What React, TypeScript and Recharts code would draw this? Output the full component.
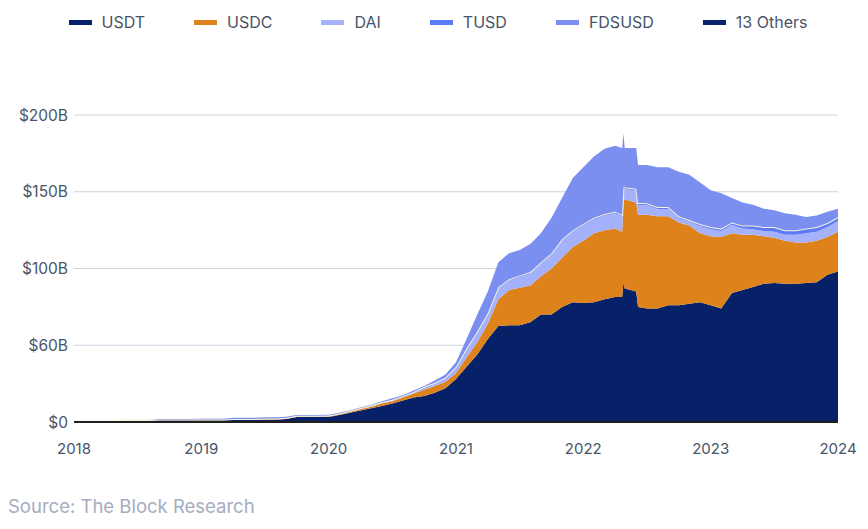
import React from 'react';
import { AreaChart, Area, XAxis, YAxis, CartesianGrid } from 'recharts';

// decimal-year timestamps (monthly, plus a few extra points around the May 2022 jump)
const times = [
  2018.0, 2018.083, 2018.167, 2018.25, 2018.333, 2018.417, 2018.5, 2018.583, 2018.667, 2018.75, 2018.833, 2018.917,
  2019.0, 2019.083, 2019.167, 2019.25, 2019.333, 2019.417, 2019.5, 2019.583, 2019.667, 2019.75, 2019.833, 2019.917,
  2020.0, 2020.083, 2020.167, 2020.25, 2020.333, 2020.417, 2020.5, 2020.583, 2020.667, 2020.75, 2020.833, 2020.917,
  2021.0, 2021.083, 2021.167, 2021.25, 2021.333, 2021.417, 2021.5, 2021.583, 2021.667, 2021.75, 2021.833, 2021.917,
  2022.0, 2022.083, 2022.167, 2022.25, 2022.305, 2022.315, 2022.325, 2022.415, 2022.43,
  2022.5, 2022.583, 2022.667, 2022.75, 2022.833, 2022.917,
  2023.0, 2023.083, 2023.167, 2023.25, 2023.333, 2023.417, 2023.5, 2023.583, 2023.667, 2023.75, 2023.833, 2023.917,
  2024.0,
];

// $B
const usdt = [
  0.3, 0.3, 0.3, 0.3, 0.3, 1.0, 1.0, 1.0, 1.2, 1.2, 1.2, 1.2,
  1.2, 1.2, 1.2, 1.3, 1.3, 1.3, 1.5, 1.5, 2.0, 3.2, 3.2, 3.2,
  3.3, 4.5, 6.0, 7.5, 9.0, 10.5, 12, 14, 16, 17, 19, 22,
  28, 36, 44, 54, 62.5, 63, 63, 65, 70, 70, 75, 78,
  77.5, 78, 80, 81.5, 81.5, 91, 87, 85, 75,
  74, 74, 76, 76, 77, 78,
  76, 74, 84, 86, 88, 90, 90.5, 90, 90, 90.5, 91, 96,
  98,
];
const usdc = [
  0, 0, 0, 0, 0, 0, 0, 0, 0.2, 0.2, 0.2, 0.2,
  0.2, 0.2, 0.2, 0.3, 0.3, 0.3, 0.4, 0.4, 0.4, 0.4, 0.4, 0.4,
  0.5, 0.6, 0.7, 1.0, 1.0, 1.5, 1.5, 2, 2.5, 4, 4.5, 4,
  4, 6, 8, 10, 17.5, 23, 24.5, 24, 25, 30, 32, 36,
  40.5, 45, 45, 44.5, 42.5, 54, 58, 58, 60,
  61, 60, 58, 54, 51, 45,
  45, 46.5, 39, 36, 34, 31, 29.5, 28, 27, 26.5, 27, 24.5,
  26,
];
const dai = [
  0, 0, 0, 0, 0, 0.1, 0.1, 0.1, 0.2, 0.2, 0.2, 0.2,
  0.2, 0.2, 0.2, 0.3, 0.3, 0.3, 0.3, 0.3, 0.3, 0.3, 0.3, 0.3,
  0.3, 0.3, 0.3, 0.4, 0.4, 0.7, 0.7, 0.7, 0.7, 1.6, 1.6, 2.5,
  3.5, 5.4, 6.3, 6.2, 7.1, 6, 7, 7.7, 8, 9, 10.9, 9.9,
  9.8, 8.8, 9.3, 9.8, 9.8, 6.8, 6.8, 7.8, 6.4,
  6.3, 4.8, 4.8, 2.8, 2.4, 4.7,
  4.5, 4, 5.5, 4, 3.5, 3.5, 4, 4, 5, 6, 6, 6.6,
  7,
];
const tusd = [
  0, 0, 0, 0, 0, 0, 0, 0, 0, 0, 0, 0,
  0.1, 0.1, 0.1, 0.1, 0.1, 0.1, 0.1, 0.1, 0.1, 0.1, 0.1, 0.1,
  0.2, 0.2, 0.2, 0.2, 0.3, 0.3, 0.3, 0.3, 0.3, 0.4, 0.4, 0.5,
  0.5, 0.6, 0.7, 0.8, 0.9, 1, 1, 1, 1, 1, 1.1, 1.1,
  1.2, 1.2, 1.2, 1.2, 1.2, 1.2, 1.2, 1.2, 1.2,
  1.2, 1.2, 1.2, 1.2, 1.2, 1.3,
  1.5, 1.5, 1.5, 2, 2.5, 2.5, 3, 3, 3, 3, 3, 2.5,
  2.5,
];
const fdsusd = [
  0, 0, 0, 0, 0, 0.1, 0.1, 0.1, 0.4, 0.4, 0.4, 0.4,
  0.4, 0.4, 0.4, 0.7, 0.7, 0.7, 0.8, 0.8, 0.7, 0.5, 0.5, 0.5,
  0.5, 0.4, 0.3, 0.4, 0.3, 0.5, 1.0, 0.5, 1, 0.5, 1.5, 2,
  3, 6, 11, 14, 16, 17, 16.5, 18.3, 19, 23, 27, 34,
  37, 40, 42.5, 43, 43.5, 35, 25.5, 26.5, 24.9,
  25, 26, 26, 29, 29.4, 27,
  24, 23, 16, 15, 13.5, 12, 11, 11, 10, 7.5, 7.5, 7.4,
  5.5,
];
const others = times.map(() => 0);

const xTicks = [2018, 2019, 2020, 2021, 2022, 2023, 2024];
const yTicks = [0, 50, 100, 150, 200];
const yTickLabels = ['$0', '$60B', '$100B', '$150B', '$200B'];

const series = [
  { key: 'usdt', name: 'USDT', color: '#062167' },
  { key: 'usdc', name: 'USDC', color: '#de821c' },
  { key: 'dai', name: 'DAI', color: '#a4b2fb' },
  { key: 'tusd', name: 'TUSD', color: '#5c7bf5' },
  { key: 'fdsusd', name: 'FDSUSD', color: '#7b8ff0' },
  { key: 'others', name: '13 Others', color: '#0a2470' },
];

const data = times.map((t, i) => ({
  t,
  usdt: usdt[i],
  usdc: usdc[i],
  dai: dai[i],
  tusd: tusd[i],
  fdsusd: fdsusd[i],
  others: others[i],
}));

const FONT = 'Inter, "Noto Sans", sans-serif';

export default function App() {
  return (
    <div style={{ position: 'absolute', left: 0, top: 0, width: 868, height: 529, background: '#fff', fontFamily: FONT }}>
      <div
        style={{
          position: 'absolute',
          top: 12,
          left: 4,
          width: 868,
          display: 'flex',
          justifyContent: 'center',
          gap: 49,
          fontSize: 16,
          color: '#475467',
        }}
      >
        {series.map((s) => (
          <div key={s.key} style={{ display: 'flex', alignItems: 'center', gap: 10 }}>
            <span style={{ display: 'inline-block', width: 23, height: 5, background: s.color }} />
            <span>{s.name}</span>
          </div>
        ))}
      </div>

      <AreaChart
        width={868}
        height={529}
        data={data}
        margin={{ top: 115, right: 30, left: 0, bottom: 77 }}
        style={{ position: 'absolute', left: 0, top: 0 }}
      >
        <CartesianGrid vertical={false} stroke="#cbd5e1" strokeWidth={1.2} />
        <XAxis
          dataKey="t"
          type="number"
          domain={[2018, 2024]}
          ticks={xTicks}
          tickFormatter={(v) => String(v)}
          axisLine={{ stroke: '#1f1f1f', strokeWidth: 2 }}
          tickLine={false}
          tickMargin={15}
          height={30}
          tick={{ fontSize: 15, fill: '#475467', fontFamily: FONT }}
        />
        <YAxis
          domain={[0, 200]}
          ticks={yTicks}
          tickFormatter={(v) => yTickLabels[yTicks.indexOf(v)]}
          axisLine={false}
          tickLine={false}
          tickSize={4}
          tickMargin={2}
          width={74}
          tick={{ fontSize: 15.5, fill: '#475467', fontFamily: FONT }}
        />
        {series.map((s) => (
          <Area
            key={s.key}
            dataKey={s.key}
            name={s.name}
            stackId="1"
            type="linear"
            fill={s.color}
            fillOpacity={1}
            stroke={s.key === 'tusd' ? '#f4f1dc' : 'none'}
            strokeWidth={s.key === 'tusd' ? 2 : 0}
            isAnimationActive={false}
          />
        ))}
      </AreaChart>

      <div style={{ position: 'absolute', left: 8, top: 495, fontSize: 18.5, color: '#a3adbf' }}>
        Source: The Block Research
      </div>
    </div>
  );
}
